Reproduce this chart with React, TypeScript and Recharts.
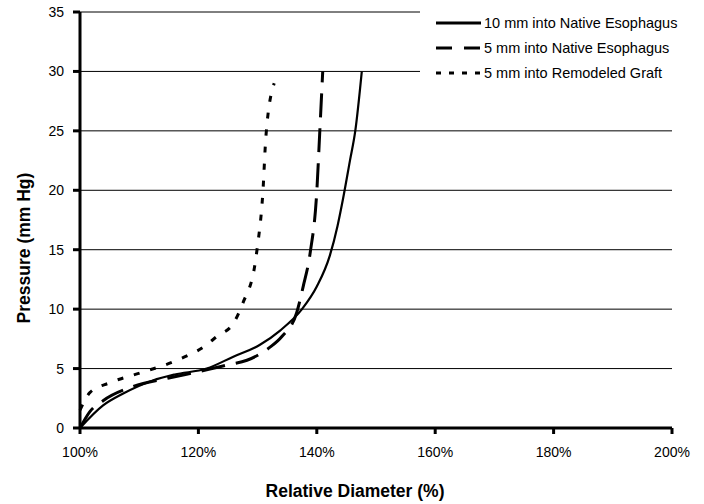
import { LineChart, Line, XAxis, YAxis, CartesianGrid } from "recharts";

// relative diameter (%) vs pressure (mm Hg)
const diam10Native = [100, 103.9, 107.3, 112.3, 116, 121.4, 125.9, 130.4, 133.8, 137.5, 140, 142.2, 143.5, 144.4, 145.6, 146.5, 147.6];
const press10Native = [0, 1.9, 2.9, 4.0, 4.5, 5.0, 6.0, 7.0, 8.2, 10, 11.9, 14.5, 17, 19.2, 22.5, 25, 30];

const diam5Native = [100, 101.7, 103.9, 109, 115, 121.4, 124.8, 128.2, 132.1, 134.1, 136.6, 137.7, 138.9, 140, 140.5, 141];
const press5Native = [0, 1.4, 2.3, 3.5, 4.2, 4.9, 5.3, 5.7, 6.8, 7.7, 9.7, 11.9, 14.8, 19.9, 24.9, 30];

const diam5Graft = [100, 101.7, 105, 110.6, 116.4, 121.4, 123.1, 125.9, 127.5, 129.6, 129.9, 130.9, 131.4, 132.8];
const press5Graft = [1.5, 3.0, 3.8, 4.7, 5.7, 7.0, 7.7, 8.8, 10.5, 13.9, 15, 19.9, 24.5, 29];

const xTicks = [100, 120, 140, 160, 180, 200];
const yTicks = [0, 5, 10, 15, 20, 25, 30, 35];

const toPoints = (d: number[], p: number[]) => d.map((v, i) => ({ d: v, p: p[i] }));

const series = [
  { name: "10 mm into Native Esophagus", data: toPoints(diam10Native, press10Native), dash: undefined, width: 2.2, legendDash: undefined },
  { name: "5 mm into Native Esophagus", data: toPoints(diam5Native, press5Native), dash: "24 11", width: 3, legendDash: "16 12" },
  { name: "5 mm into Remodeled Graft", data: toPoints(diam5Graft, press5Graft), dash: "6 11", width: 3, legendDash: "5 8" },
];

const font = "'Liberation Sans', Arial, sans-serif";
const titleStyle = { fontSize: 17.5, fontWeight: "bold", fill: "#000", fontFamily: font };

const App = () => {
  return (
    <div style={{ position: "absolute", left: 0, top: 0, width: 704, height: 504, background: "#fff", fontFamily: font }}>
      <LineChart width={704} height={504} margin={{ top: 12, right: 32, left: 0, bottom: 0 }}>
        <CartesianGrid vertical={false} stroke="#000" strokeWidth={1} />
        <XAxis
          dataKey="d"
          type="number"
          domain={[100, 200]}
          ticks={xTicks}
          tickFormatter={(v) => `${v}%`}
          height={76}
          tick={{ fontSize: 14, fill: "#000", fontFamily: font }}
          axisLine={{ stroke: "#000", strokeWidth: 3 }}
          tickLine={{ stroke: "#000", strokeWidth: 3 }}
          tickSize={6}
          tickMargin={13}
          label={{
            content: () => (
              <text x={355} y={497} textAnchor="middle" style={titleStyle}>
                Relative Diameter (%)
              </text>
            ),
          }}
        />
        <YAxis
          type="number"
          domain={[0, 35]}
          ticks={yTicks}
          width={80}
          tick={{ fontSize: 14, fill: "#000", fontFamily: font }}
          axisLine={{ stroke: "#000", strokeWidth: 3 }}
          tickLine={{ stroke: "#000", strokeWidth: 3 }}
          tickSize={7}
          tickMargin={9}
          label={{
            content: () => (
              <text
                x={24}
                y={248}
                transform="rotate(-90 24 248)"
                textAnchor="middle"
                dominantBaseline="central"
                style={titleStyle}
              >
                Pressure (mm Hg)
              </text>
            ),
          }}
        />
        {series.map((s) => (
          <Line
            key={s.name}
            data={s.data}
            dataKey="p"
            name={s.name}
            type="monotone"
            stroke="#000"
            strokeWidth={s.width}
            strokeDasharray={s.dash}
            dot={false}
            activeDot={false}
            isAnimationActive={false}
          />
        ))}
      </LineChart>
      <div style={{ position: "absolute", left: 420, top: 0, width: 284, height: 88, background: "#fff", paddingTop: 10 }}>
        {series.map((s) => (
          <div key={s.name} style={{ display: "flex", alignItems: "center", height: 25 }}>
            <svg width={62} height={10} style={{ flex: "none" }}>
              <line x1={16} y1={5} x2={61} y2={5} stroke="#000" strokeWidth={3} strokeDasharray={s.legendDash} />
            </svg>
            <span style={{ fontSize: 14.5, color: "#000", marginLeft: 2 }}>{s.name}</span>
          </div>
        ))}
      </div>
    </div>
  );
};

export default App;
